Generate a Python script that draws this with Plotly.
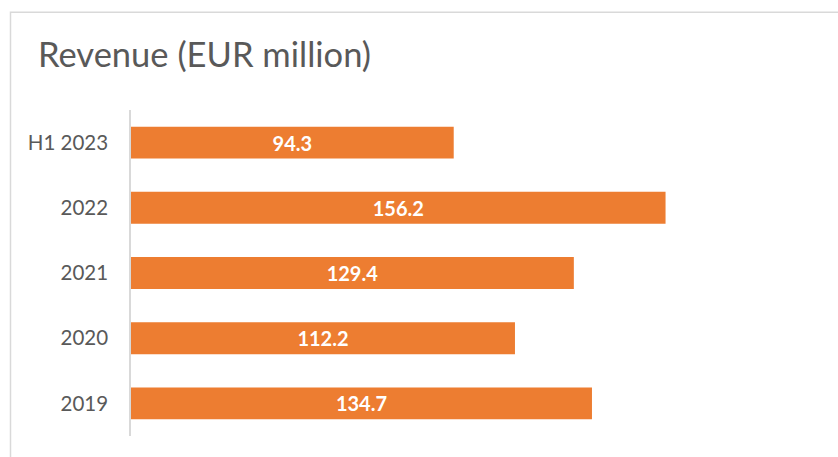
import plotly.graph_objects as go

categories = ["2019", "2020", "2021", "2022", "H1 2023"]
revenue = [134.7, 112.2, 129.4, 156.2, 94.3]
labels = ["134.7", "112.2", "129.4", "156.2", "94.3"]
title_text = "Revenue (EUR million)"

W, H = 838, 457
L, R, T, B = 131, 91, 110, 20.5
pw = W - L - R
ph = H - T - B

fig = go.Figure(go.Bar(
    x=revenue, y=categories, orientation="h",
    marker=dict(color="#ED7D31", line=dict(width=0)),
    width=0.49,
    text=labels, textposition="inside", insidetextanchor="middle",
    textfont=dict(family="Lato", size=20, color="white", weight="bold"),
    textangle=0, cliponaxis=False,
))

fig.update_layout(
    width=W, height=H,
    margin=dict(l=L, r=R, t=T, b=B, pad=0),
    paper_bgcolor="white", plot_bgcolor="white",
    showlegend=False,
    title=dict(text=title_text, xref="container", yref="container",
               x=38 / W, xanchor="left", y=1 - 55 / H, yanchor="middle",
               font=dict(family="Lato", size=34.5, color="#595959")),
    xaxis=dict(range=[0, 180], visible=False, fixedrange=True),
    yaxis=dict(showline=True, linecolor="#D9D9D9", linewidth=1.5,
               ticks="", showgrid=False, zeroline=False,
               tickfont=dict(family="Lato", size=20.5, color="#595959"),
               ticklabelstandoff=17),
    shapes=[dict(type="rect", xref="paper", yref="paper",
                 x0=(10.5 - L) / pw, x1=1.3, y0=-0.3, y1=(H - B - 12) / ph,
                 line=dict(color="#D9D9D9", width=1.5), fillcolor="rgba(0,0,0,0)",
                 layer="below")],
)

fig.write_html(
    "out.html",
    config={"displayModeBar": False},
    post_script="document.body.style.margin='0';document.body.style.overflow='hidden';",
)
